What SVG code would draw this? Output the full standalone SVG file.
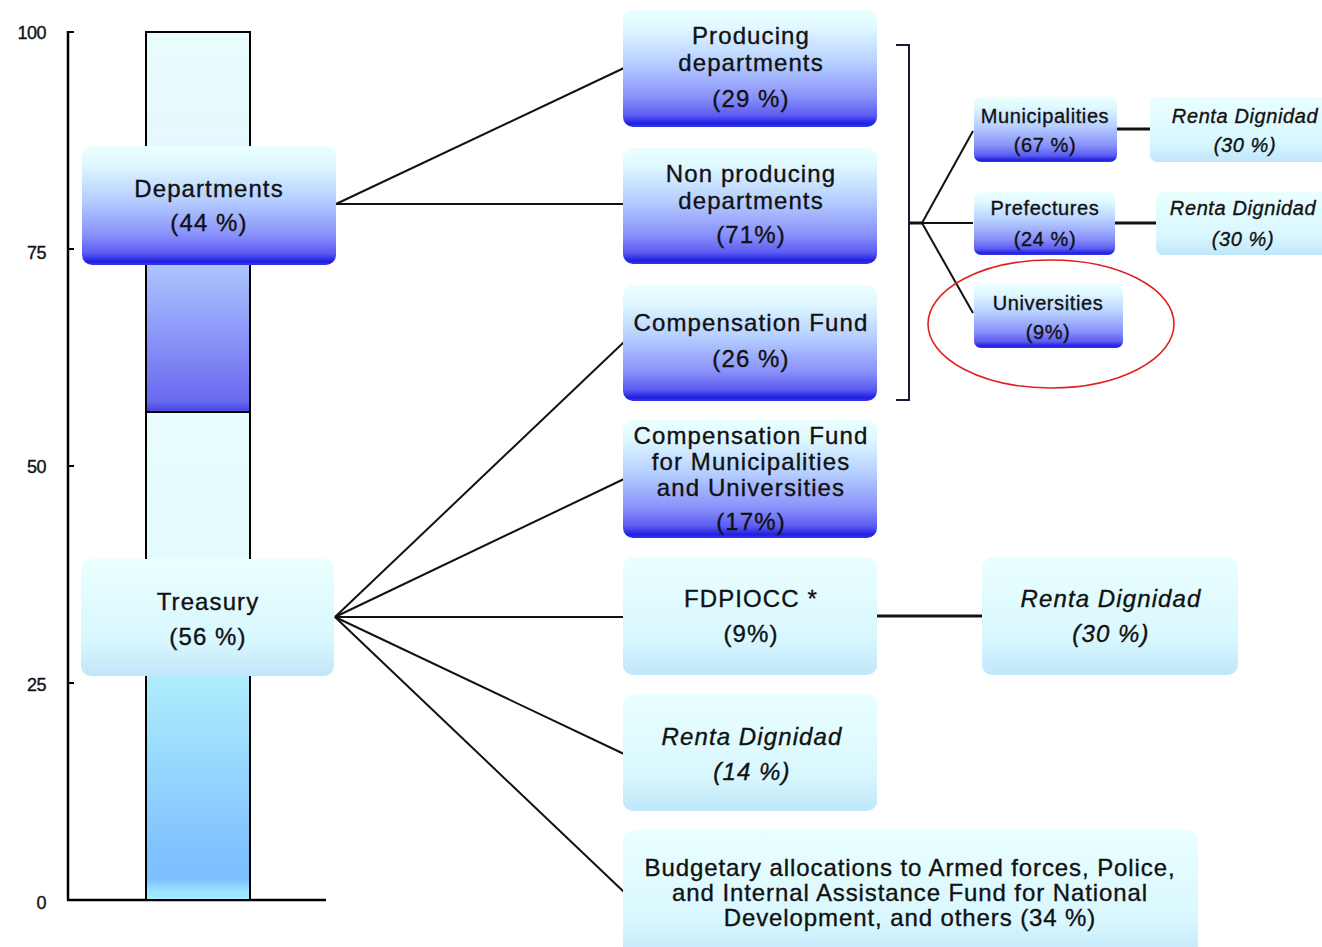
<svg xmlns="http://www.w3.org/2000/svg" width="1322" height="947" viewBox="0 0 1322 947">
<defs>
  <linearGradient id="gBlue" x1="0" y1="0" x2="0" y2="1">
    <stop offset="0" stop-color="#eaffff"/>
    <stop offset="0.15" stop-color="#e0f9ff"/>
    <stop offset="0.45" stop-color="#b6cfff"/>
    <stop offset="0.75" stop-color="#8890fa"/>
    <stop offset="0.9" stop-color="#5c5cf2"/>
    <stop offset="0.97" stop-color="#2020e2"/>
    <stop offset="1" stop-color="#3636ec"/>
  </linearGradient>
  <linearGradient id="gLight" x1="0" y1="0" x2="0" y2="1">
    <stop offset="0" stop-color="#eaffff"/>
    <stop offset="0.7" stop-color="#d8f7fe"/>
    <stop offset="1" stop-color="#c0e6fb"/>
  </linearGradient>
  <linearGradient id="gBarTop" x1="0" y1="0" x2="0" y2="1">
    <stop offset="0" stop-color="#e9fdfd"/>
    <stop offset="0.32" stop-color="#e4f8fe"/>
    <stop offset="0.61" stop-color="#aec6ff"/>
    <stop offset="0.97" stop-color="#6a6af0"/>
    <stop offset="1" stop-color="#4444e4"/>
  </linearGradient>
  <linearGradient id="gBarBottom" x1="0" y1="0" x2="0" y2="1">
    <stop offset="0" stop-color="#e9fdfd"/>
    <stop offset="0.3" stop-color="#e4fafd"/>
    <stop offset="0.54" stop-color="#b0eefc"/>
    <stop offset="0.9" stop-color="#80c2fe"/>
    <stop offset="0.96" stop-color="#7ec0ff"/>
    <stop offset="0.985" stop-color="#9ae6ff"/>
    <stop offset="1" stop-color="#a4ecff"/>
  </linearGradient>
</defs>
<style>
  text { font-family: "Liberation Sans", Arial, sans-serif; fill: #111; stroke: #111; stroke-width: 0.35; text-anchor: middle; }
  .big { font-size: 24px; letter-spacing: 1.1px; }
  .small { font-size: 20px; letter-spacing: 0.6px; }
  .it { font-style: italic; }
  .ax { font-size: 18px; text-anchor: end; letter-spacing: -0.5px; }
  .blue { fill: url(#gBlue); }
  .light { fill: url(#gLight); }
  .conn { stroke: #111; stroke-width: 2; fill: none; }
  .thick { stroke: #111; stroke-width: 3; fill: none; }
  .brk { stroke: #1a1a40; stroke-width: 2; fill: none; }
</style>
<rect width="1322" height="947" fill="#ffffff"/>

<g id="chart">
  <line x1="68" y1="31" x2="68" y2="900" stroke="#000" stroke-width="2.5"/>
  <line x1="67" y1="900" x2="326" y2="900" stroke="#000" stroke-width="2.5"/>
  <line x1="68" y1="32" x2="74" y2="32" stroke="#000" stroke-width="2"/>
  <line x1="68" y1="249" x2="74" y2="249" stroke="#000" stroke-width="2"/>
  <line x1="68" y1="466" x2="74" y2="466" stroke="#000" stroke-width="2"/>
  <line x1="68" y1="683" x2="74" y2="683" stroke="#000" stroke-width="2"/>
  <text class="ax" x="46" y="39">100</text>
  <text class="ax" x="46" y="259">75</text>
  <text class="ax" x="46" y="473">50</text>
  <text class="ax" x="46" y="691">25</text>
  <text class="ax" x="46" y="909">0</text>
  <rect x="146" y="32" width="104" height="380" fill="url(#gBarTop)"/>
  <rect x="146" y="412" width="104" height="487" fill="url(#gBarBottom)"/>
  <path d="M146,899 V32 H250 V899" fill="none" stroke="#000" stroke-width="2"/>
  <line x1="146" y1="412" x2="250" y2="412" stroke="#000" stroke-width="2"/>
</g>

<g id="connectors">
  <line class="conn" x1="336" y1="204" x2="624" y2="68"/>
  <line class="conn" x1="336" y1="204" x2="624" y2="204"/>
  <line class="conn" x1="335" y1="617" x2="624" y2="342"/>
  <line class="conn" x1="335" y1="617" x2="624" y2="479"/>
  <line class="conn" x1="335" y1="617" x2="624" y2="617"/>
  <line class="conn" x1="335" y1="617" x2="624" y2="754"/>
  <line class="conn" x1="335" y1="617" x2="624" y2="892"/>
  <line class="thick" x1="877" y1="616" x2="982" y2="616"/>
  <path class="brk" d="M896,45 H909 V400 H896"/>
  <line class="thick" x1="909" y1="223" x2="923" y2="223"/>
  <line class="conn" x1="922" y1="223" x2="973" y2="131"/>
  <line class="conn" x1="922" y1="223" x2="973" y2="223"/>
  <line class="conn" x1="922" y1="223" x2="973" y2="313"/>
  <line class="thick" x1="1116" y1="129" x2="1150" y2="129"/>
  <line class="thick" x1="1114" y1="223" x2="1156" y2="223"/>
</g>

<g id="departments">
  <rect class="blue" x="82" y="146" width="254" height="119" rx="10"/>
  <text class="big" x="209" y="197">Departments</text>
  <text class="big" x="209" y="231">(44 %)</text>
</g>
<g id="treasury">
  <rect class="light" x="81" y="559" width="253" height="117" rx="10"/>
  <text class="big" x="208" y="610">Treasury</text>
  <text class="big" x="208" y="645">(56 %)</text>
</g>
<g id="producing">
  <rect class="blue" x="623" y="10" width="254" height="117" rx="10"/>
  <text class="big" x="751" y="44">Producing</text>
  <text class="big" x="751" y="71">departments</text>
  <text class="big" x="751" y="107">(29 %)</text>
</g>
<g id="nonproducing">
  <rect class="blue" x="623" y="148" width="254" height="116" rx="10"/>
  <text class="big" x="751" y="182">Non producing</text>
  <text class="big" x="751" y="209">departments</text>
  <text class="big" x="751" y="243">(71%)</text>
</g>
<g id="compfund">
  <rect class="blue" x="623" y="285" width="254" height="116" rx="10"/>
  <text class="big" x="751" y="331">Compensation Fund</text>
  <text class="big" x="751" y="367">(26 %)</text>
</g>
<g id="compfund-mu">
  <rect class="blue" x="623" y="420" width="254" height="118" rx="10"/>
  <text class="big" x="751" y="444">Compensation Fund</text>
  <text class="big" x="751" y="470">for Municipalities</text>
  <text class="big" x="751" y="496">and Universities</text>
  <text class="big" x="751" y="530">(17%)</text>
</g>
<g id="fdpiocc">
  <rect class="light" x="623" y="557" width="254" height="118" rx="10"/>
  <text class="big" x="751" y="607">FDPIOCC *</text>
  <text class="big" x="751" y="642">(9%)</text>
</g>
<g id="renta14">
  <rect class="light" x="623" y="694" width="254" height="117" rx="10"/>
  <text class="big it" x="752" y="745">Renta Dignidad</text>
  <text class="big it" x="752" y="780">(14 %)</text>
</g>
<g id="budgetary">
  <rect class="light" x="623" y="830" width="575" height="130" rx="10"/>
  <text class="big" x="910" y="876" style="letter-spacing:0.9px">Budgetary allocations to Armed forces, Police,</text>
  <text class="big" x="910" y="901" style="letter-spacing:0.9px">and Internal Assistance Fund for National</text>
  <text class="big" x="910" y="926" style="letter-spacing:0.9px">Development, and others (34 %)</text>
</g>
<g id="renta30-fd">
  <rect class="light" x="982" y="557" width="256" height="118" rx="10"/>
  <text class="big it" x="1111" y="607">Renta Dignidad</text>
  <text class="big it" x="1111" y="642">(30 %)</text>
</g>
<g id="municipalities">
  <rect class="blue" x="974" y="97" width="143" height="65" rx="7"/>
  <text class="small" x="1045" y="123">Municipalities</text>
  <text class="small" x="1045" y="152">(67 %)</text>
</g>
<g id="renta30-mu">
  <rect class="light" x="1150" y="97" width="182" height="65" rx="7"/>
  <text class="small it" x="1245" y="123">Renta Dignidad</text>
  <text class="small it" x="1245" y="152">(30 %)</text>
</g>
<g id="prefectures">
  <rect class="blue" x="974" y="192" width="141" height="63" rx="7"/>
  <text class="small" x="1045" y="215">Prefectures</text>
  <text class="small" x="1045" y="246">(24 %)</text>
</g>
<g id="renta30-pr">
  <rect class="light" x="1156" y="192" width="176" height="63" rx="7"/>
  <text class="small it" x="1243" y="215">Renta Dignidad</text>
  <text class="small it" x="1243" y="246">(30 %)</text>
</g>
<g id="universities">
  <rect class="blue" x="974" y="284" width="149" height="64" rx="7"/>
  <text class="small" x="1048" y="310">Universities</text>
  <text class="small" x="1048" y="339">(9%)</text>
</g>
<g id="highlight">
  <ellipse cx="1051" cy="324" rx="123" ry="64" fill="none" stroke="#e02020" stroke-width="1.6"/>
</g>
</svg>
